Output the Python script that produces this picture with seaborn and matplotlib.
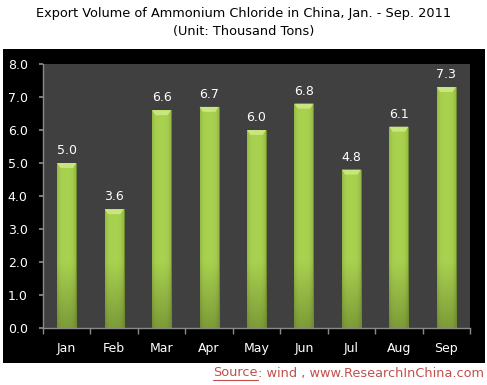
import matplotlib
matplotlib.use("Agg")
import matplotlib.pyplot as plt
import seaborn as sns
import pandas as pd
import numpy as np
from matplotlib.patches import Rectangle, Polygon

months = ["Jan", "Feb", "Mar", "Apr", "May", "Jun", "Jul", "Aug", "Sep"]
volumes = [5.0, 3.6, 6.6, 6.7, 6.0, 6.8, 4.8, 6.1, 7.3]
yticks = [0.0, 1.0, 2.0, 3.0, 4.0, 5.0, 6.0, 7.0, 8.0]

df = pd.DataFrame({"month": months, "volume": volumes})

sns.set_theme(style="white")
plt.rcParams["font.family"] = ["DejaVu Sans"]

W, H = 487, 385
fig = plt.figure(figsize=(W / 100, H / 100), dpi=100)
fig.patch.set_facecolor("white")

# black panel as background axes
bg = fig.add_axes([3 / W, 1 - 363 / H, (485 - 3) / W, (363 - 49) / H])
bg.set_facecolor("black")
bg.set_xticks([])
bg.set_yticks([])
for s in bg.spines.values():
    s.set_visible(False)
bg.set_zorder(0)

ax = fig.add_axes([43 / W, 1 - 328 / H, (470 - 43) / W, (328 - 64) / H])
ax.set_zorder(2)
ax.set_facecolor("#404040")

bw = 0.4
sns.barplot(data=df, x="month", y="volume", ax=ax, color="#9CC43E",
            width=bw, edgecolor="#6E8F2A", linewidth=0.6, saturation=1)

# gradient fill for bars (lighter top, darker bottom; darker edges)
light = np.array([0.66, 0.82, 0.31])
dark = np.array([0.49, 0.61, 0.22])
ny, nx = 200, 40
yy = np.linspace(0, 8, ny)[:, None]
xx = np.linspace(-1, 1, nx)[None, :]
tv = np.clip(yy / 2.0, 0, 1)
edge = 1 - 0.12 * np.abs(xx) ** 4
img = (dark[None, None, :] + (light - dark)[None, None, :] * tv[..., None]) * edge[..., None]
img = np.clip(img, 0, 1)

for i, (bar, v) in enumerate(zip(ax.patches, volumes)):
    x0, x1 = i - bw / 2, i + bw / 2
    im = ax.imshow(img, extent=[x0, x1, 0, 8], origin="lower", aspect="auto",
                   zorder=2.5, interpolation="bilinear")
    im.set_clip_path(bar)
    ax.add_patch(Polygon([[x0, v], [x1, v], [x1 - 0.07, v - 0.15], [x0 + 0.07, v - 0.15]],
                         closed=True, facecolor="#C9E67E", edgecolor="none", zorder=3))
    ax.text(i, v + 0.18, f"{v:.1f}", ha="center", va="bottom", color="white",
            fontsize=9)

ax.set_ylim(0, 8)
ax.set_xlim(-0.5, len(months) - 0.5)
ax.set_yticks(yticks)
ax.set_yticklabels([f"{t:.1f}" for t in yticks], color="white", fontsize=9)
ax.set_xticks(range(len(months)))
ax.set_xticklabels(months, color="white", fontsize=9)
ax.set_xlabel("")
ax.set_ylabel("")

for s in ["top", "right"]:
    ax.spines[s].set_visible(False)
for s in ["left", "bottom"]:
    ax.spines[s].set_color("#8A8A8A")
    ax.spines[s].set_linewidth(1)

ax.tick_params(axis="y", length=3, color="#8A8A8A", pad=8, left=True)
ax.tick_params(axis="x", length=0, pad=10)
ax.set_xticks(np.arange(-0.5, len(months) - 0.4, 1.0), minor=True)
ax.tick_params(axis="x", which="minor", length=4, color="#8A8A8A", bottom=True)

fig.text(0.5, 1 - 13 / H, "Export Volume of Ammonium Chloride in China, Jan. - Sep. 2011",
         ha="center", va="center", fontsize=9.3, color="black")
fig.text(0.5, 1 - 31 / H, "(Unit: Thousand Tons)", ha="center", va="center",
         fontsize=9.3, color="black")

src = fig.text(213 / W, 1 - 373 / H, "Source", ha="left", va="center",
               fontsize=9.3, color="#C0504D")
fig.canvas.draw()
bb = src.get_window_extent()
fig.text(bb.x1 / W, 1 - 373 / H, ": wind , www.ResearchInChina.com", ha="left",
         va="center", fontsize=9.3, color="#C0504D")
fig.lines.append(plt.Line2D([bb.x0 / W, bb.x1 / W], [bb.y0 / H - 0.002, bb.y0 / H - 0.002],
                            transform=fig.transFigure, color="#C0504D", linewidth=0.8))

fig.savefig("out.png", dpi=100, facecolor="white")
